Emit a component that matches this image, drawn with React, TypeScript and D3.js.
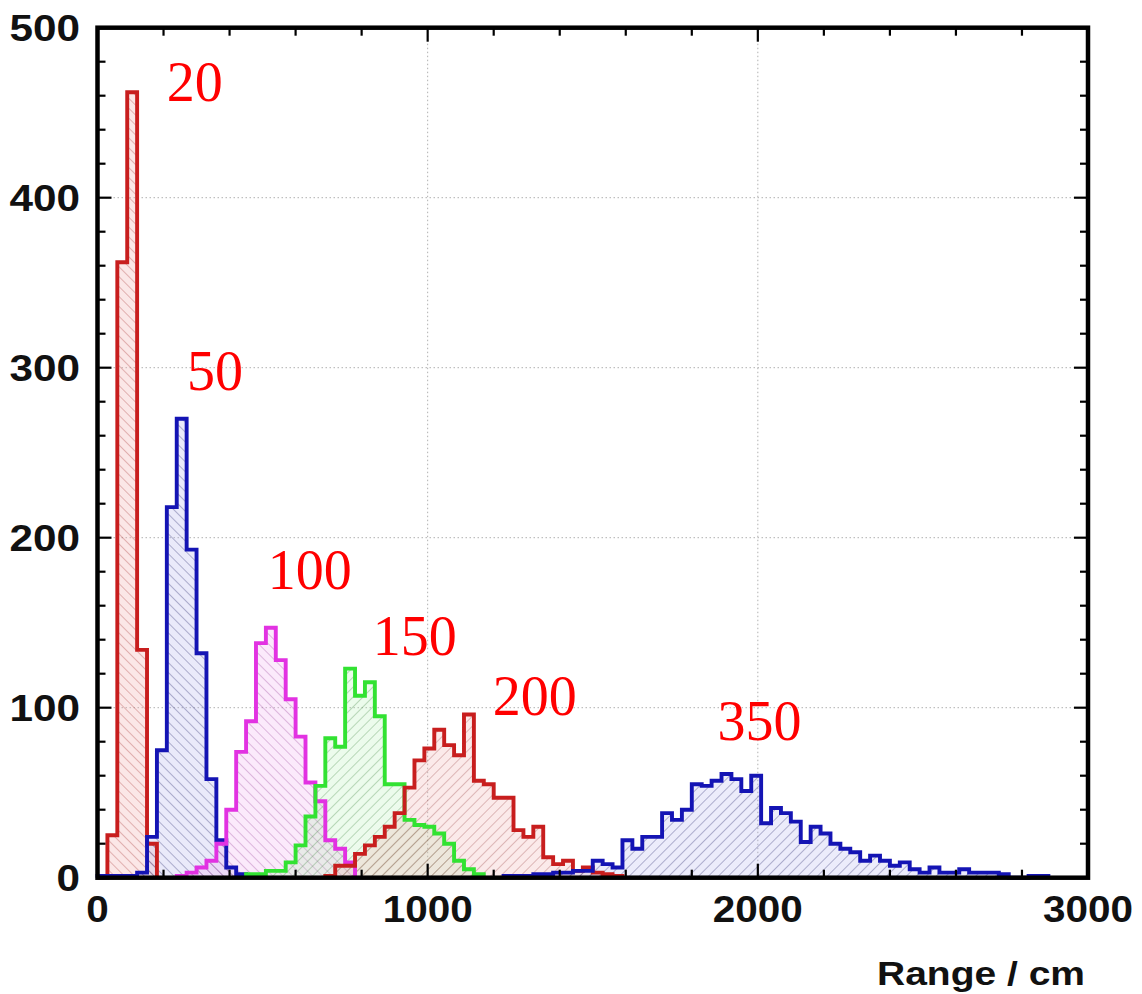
import React from 'react';
import * as d3 from 'd3';

// ---------- data ----------
const BIN_WIDTH = 30;
const X_DOMAIN: [number, number] = [0, 3000];
const Y_DOMAIN: [number, number] = [0, 500];

const r20Start = 0;
const r20Counts = [0, 25, 362, 462, 134, 20];

const b50Start = 0;
const b50Counts = [1, 1, 1, 1, 3, 24, 75, 218, 270, 193, 132, 58, 22, 6, 2];

const m100Start = 240;
const m100Counts = [1, 3, 6, 10, 20, 40, 74, 92, 138, 147, 128, 105, 83, 56, 45, 22, 17, 9];

const g150Start = 450;
const g150Counts = [2, 2, 4, 4, 9, 19, 36, 54, 82, 77, 123, 107, 115, 95, 55, 55, 34, 31, 30, 26, 20, 10, 5, 2];

const r200Start = 690;
const r200Counts = [1, 7, 7, 14, 19, 24, 30, 38, 53, 69, 76, 87, 78, 72, 96, 57, 55, 47, 47, 28, 24, 30, 12, 8, 10, 4, 6, 3, 2, 1];

const b350Start = 1230;
const b350Counts = [1, 1, 1, 2, 2, 3, 3, 4, 4, 10, 8, 6, 22, 17, 24, 24, 38, 34, 40, 55, 54, 57, 61, 58, 51, 60, 32, 41, 38, 33, 21, 30, 26, 20, 17, 15, 10, 13, 10, 7, 9, 5, 3, 6, 3, 3, 5, 3, 3, 3, 2, 0, 0, 1, 1];

const seriesNames = ['20', '50', '100', '150', '200', '350'];
const seriesStarts = [r20Start, b50Start, m100Start, g150Start, r200Start, b350Start];
const seriesCounts = [r20Counts, b50Counts, m100Counts, g150Counts, r200Counts, b350Counts];
// label anchors in data coordinates (range, count)
const labelXs = [210, 271, 516, 834, 1197, 1878];
const labelYs = [457, 287, 170, 131, 96, 81];

const xMajorTicks = [0, 1000, 2000, 3000];
const yMajorTicks = [0, 100, 200, 300, 400, 500];
const xTitle = 'Range / cm';

// ---------- styles ----------
const STYLES = [
  { stroke: '#c81e1e', tint: 'rgba(240,170,170,0.28)', hatch: 'rgba(170,60,60,0.6)', dir: -45 },
  { stroke: '#1414b4', tint: 'rgba(170,170,235,0.25)', hatch: 'rgba(40,40,110,0.6)', dir: -45 },
  { stroke: '#e232e2', tint: 'rgba(240,170,240,0.25)', hatch: 'rgba(150,60,150,0.55)', dir: -45 },
  { stroke: '#32e232', tint: 'rgba(170,235,170,0.22)', hatch: 'rgba(60,130,60,0.55)', dir: 45 },
  { stroke: '#c81e1e', tint: 'rgba(240,170,170,0.25)', hatch: 'rgba(150,60,60,0.55)', dir: 45 },
  { stroke: '#1414b4', tint: 'rgba(170,170,235,0.22)', hatch: 'rgba(40,40,110,0.6)', dir: 45 },
];

const W = 1142;
const H = 994;
const PLOT = { left: 97.5, right: 1088, top: 27.7, bottom: 877.7 };

export default function App() {
  const x = d3.scaleLinear().domain(X_DOMAIN).range([PLOT.left, PLOT.right]);
  const y = d3.scaleLinear().domain(Y_DOMAIN).range([PLOT.bottom, PLOT.top]);
  const line = d3.line<[number, number]>().x((d) => x(d[0])).y((d) => y(d[1]));

  const stepPoints = (start: number, counts: number[]): [number, number][] => {
    const pts: [number, number][] = [[start, 0]];
    counts.forEach((c, i) => {
      pts.push([start + i * BIN_WIDTH, c]);
      pts.push([start + (i + 1) * BIN_WIDTH, c]);
    });
    pts.push([start + counts.length * BIN_WIDTH, 0]);
    return pts;
  };

  const xMinor = d3.range(X_DOMAIN[0], X_DOMAIN[1] + 1, 200).filter((v) => !xMajorTicks.includes(v));
  const yMinor = d3.range(Y_DOMAIN[0], Y_DOMAIN[1] + 1, 20).filter((v) => !yMajorTicks.includes(v));
  const MAJ = 14;
  const MIN = 8;

  return (
    <svg width={W} height={H} style={{ position: 'absolute', left: 0, top: 0, background: '#fff' }}>
      <defs>
        {STYLES.map((s, i) => (
          <pattern
            key={i}
            id={`hatch${i}`}
            patternUnits="userSpaceOnUse"
            width={7}
            height={7}
            patternTransform={`rotate(${s.dir})`}
          >
            <line x1={0} y1={0} x2={0} y2={7} stroke={s.hatch} strokeWidth={1.1} />
          </pattern>
        ))}
      </defs>
      <rect x={0} y={0} width={W} height={H} fill="#fff" />

      {/* grid */}
      <g stroke="#b0b0b0" strokeWidth={1} strokeDasharray="1.5,2.5">
        {xMajorTicks.slice(1, -1).map((t) => (
          <line key={`gx${t}`} x1={x(t)} x2={x(t)} y1={PLOT.top} y2={PLOT.bottom} />
        ))}
        {yMajorTicks.slice(1, -1).map((t) => (
          <line key={`gy${t}`} x1={PLOT.left} x2={PLOT.right} y1={y(t)} y2={y(t)} />
        ))}
      </g>

      {/* histogram fills */}
      {seriesCounts.map((counts, i) => {
        const d = line(stepPoints(seriesStarts[i], counts)) + 'Z';
        return (
          <g key={`f${i}`}>
            <path d={d} fill={STYLES[i].tint} stroke="none" />
            <path d={d} fill={`url(#hatch${i})`} stroke="none" />
          </g>
        );
      })}

      {/* histogram outlines */}
      {seriesCounts.map((counts, i) => (
        <path
          key={`o${i}`}
          d={line(stepPoints(seriesStarts[i], counts)) || ''}
          fill="none"
          stroke={STYLES[i].stroke}
          strokeWidth={3.9}
          strokeLinejoin="miter"
        />
      ))}

      {/* series labels */}
      {seriesNames.map((n, i) => (
        <text
          key={`l${i}`}
          x={x(labelXs[i])}
          y={y(labelYs[i])}
          fill="#ff0000"
          fontFamily="'Liberation Serif', 'Times New Roman', serif"
          fontSize={56}
        >
          {n}
        </text>
      ))}

      {/* ticks */}
      <g stroke="#000" strokeWidth={2.2}>
        {xMajorTicks.map((t) => (
          <g key={`xt${t}`}>
            <line x1={x(t)} x2={x(t)} y1={PLOT.bottom} y2={PLOT.bottom - MAJ} />
            <line x1={x(t)} x2={x(t)} y1={PLOT.top} y2={PLOT.top + MAJ} />
          </g>
        ))}
        {xMinor.map((t) => (
          <g key={`xm${t}`}>
            <line x1={x(t)} x2={x(t)} y1={PLOT.bottom} y2={PLOT.bottom - MIN} />
            <line x1={x(t)} x2={x(t)} y1={PLOT.top} y2={PLOT.top + MIN} />
          </g>
        ))}
        {yMajorTicks.map((t) => (
          <g key={`yt${t}`}>
            <line x1={PLOT.left} x2={PLOT.left + MAJ} y1={y(t)} y2={y(t)} />
            <line x1={PLOT.right} x2={PLOT.right - MAJ} y1={y(t)} y2={y(t)} />
          </g>
        ))}
        {yMinor.map((t) => (
          <g key={`ym${t}`}>
            <line x1={PLOT.left} x2={PLOT.left + MIN} y1={y(t)} y2={y(t)} />
            <line x1={PLOT.right} x2={PLOT.right - MIN} y1={y(t)} y2={y(t)} />
          </g>
        ))}
      </g>

      {/* frame */}
      <rect
        x={PLOT.left}
        y={PLOT.top}
        width={PLOT.right - PLOT.left}
        height={PLOT.bottom - PLOT.top}
        fill="none"
        stroke="#000"
        strokeWidth={4.5}
      />

      {/* tick labels */}
      <g fontFamily="'Liberation Sans', Arial, sans-serif" fontWeight="bold" fontSize={36} fill="#111">
        {xMajorTicks.map((t) => {
          const s = String(t);
          return (
            <text
              key={`xl${t}`}
              x={x(t)}
              y={922}
              textAnchor="middle"
              textLength={s.length * 22.5}
              lengthAdjust="spacingAndGlyphs"
            >
              {s}
            </text>
          );
        })}
        {yMajorTicks.map((t) => {
          const s = String(t);
          return (
            <text
              key={`yl${t}`}
              x={80}
              y={y(t) + 13}
              textAnchor="end"
              textLength={s.length * 23.5}
              lengthAdjust="spacingAndGlyphs"
            >
              {s}
            </text>
          );
        })}
        <text
          x={1085}
          y={985}
          textAnchor="end"
          fontSize={33}
          textLength={208}
          lengthAdjust="spacingAndGlyphs"
        >
          {xTitle}
        </text>
      </g>
    </svg>
  );
}
